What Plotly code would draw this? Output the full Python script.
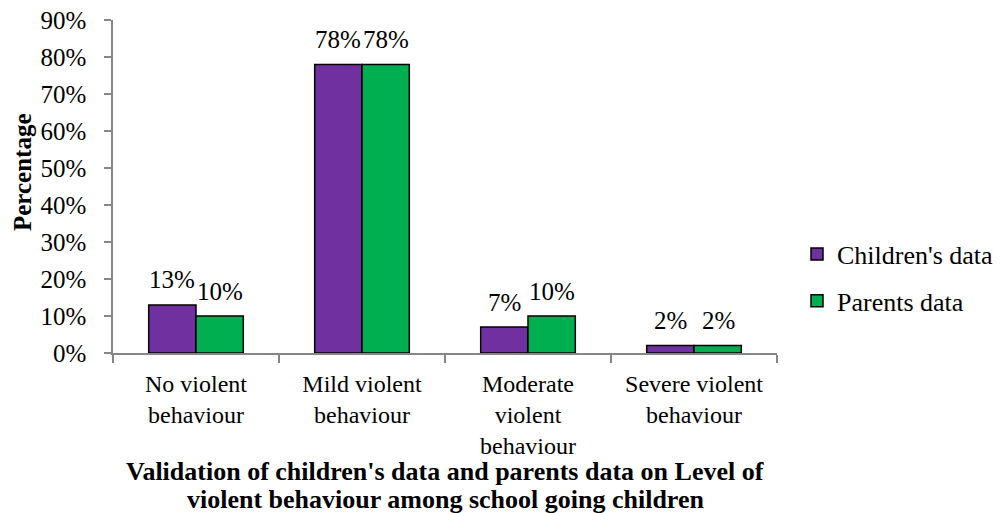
import plotly.graph_objects as go

categories = ["No violent<br>behaviour", "Mild violent<br>behaviour",
              "Moderate<br>violent<br>behaviour", "Severe violent<br>behaviour"]
children = [13, 78, 7, 2]
parents = [10, 78, 10, 2]
series_names = ["Children's data", "Parents data"]
colors = ["#7030A0", "#00B050"]
title_lines = ["Validation of children's data and parents data on Level of",
               "violent behaviour among school going children"]
y_title = "Percentage"

FONT = "Liberation Serif"
FS = 25

fig = go.Figure()
for i, (name, vals) in enumerate(zip(series_names, [children, parents])):
    fig.add_trace(go.Bar(x=categories, y=vals, name=name, legendgroup=name,
                         marker=dict(color=colors[i], line=dict(color="black", width=1.5))))

# data labels above bars
for i, vals in enumerate([children, parents]):
    shift = -24 if i == 0 else 24
    for c, v in zip(categories, vals):
        fig.add_annotation(x=c, y=v, xref="x", yref="y", text=f"{v}%",
                           showarrow=False, xshift=shift, yshift=25,
                           yanchor="middle", font=dict(size=FS, color="black"))

# x-axis title lines (bottom)
for line, ypx in zip(title_lines, [471, 499]):
    fig.add_annotation(x=0.5, xref="paper", y=-(ypx - 353) / 333, yref="paper",
                       text=f"<b>{line}</b>", showarrow=False, yanchor="middle",
                       font=dict(size=26, color="black"))

# y title
fig.add_annotation(x=-(113 - 22) / 664, xref="paper", y=(353 - 172) / 333, yref="paper",
                   text=f"<b>{y_title}</b>", showarrow=False, textangle=-90,
                   xanchor="center", yanchor="middle", font=dict(size=FS, color="black"))

fig.update_layout(
    width=1001, height=513,
    margin=dict(l=113, r=224, t=20, b=160, autoexpand=False),
    paper_bgcolor="white", plot_bgcolor="white",
    font=dict(family=FONT, size=FS, color="black"),
    barmode="group", bargap=0.43, bargroupgap=0,
    showlegend=True,
    legend=dict(x=(797 - 113) / 664, y=(353 - 277.5) / 333, xanchor="left", yanchor="middle",
                font=dict(size=26), itemwidth=30, tracegroupgap=10,
                bgcolor="rgba(0,0,0,0)"),
    xaxis=dict(showline=True, linecolor="#868686", linewidth=1.5,
               ticks="outside", tickson="boundaries", ticklen=8, tickcolor="#868686",
               tickwidth=1.5, tickfont=dict(size=24), ticklabelstandoff=8),
    yaxis=dict(range=[0, 90], dtick=10, ticksuffix="%", showgrid=False,
               showline=True, linecolor="#868686", linewidth=1.5,
               ticks="outside", ticklen=7, tickcolor="#868686", tickwidth=1.5,
               tickfont=dict(size=FS), zeroline=False, ticklabelstandoff=13),
)

fig.write_html("out.html")
